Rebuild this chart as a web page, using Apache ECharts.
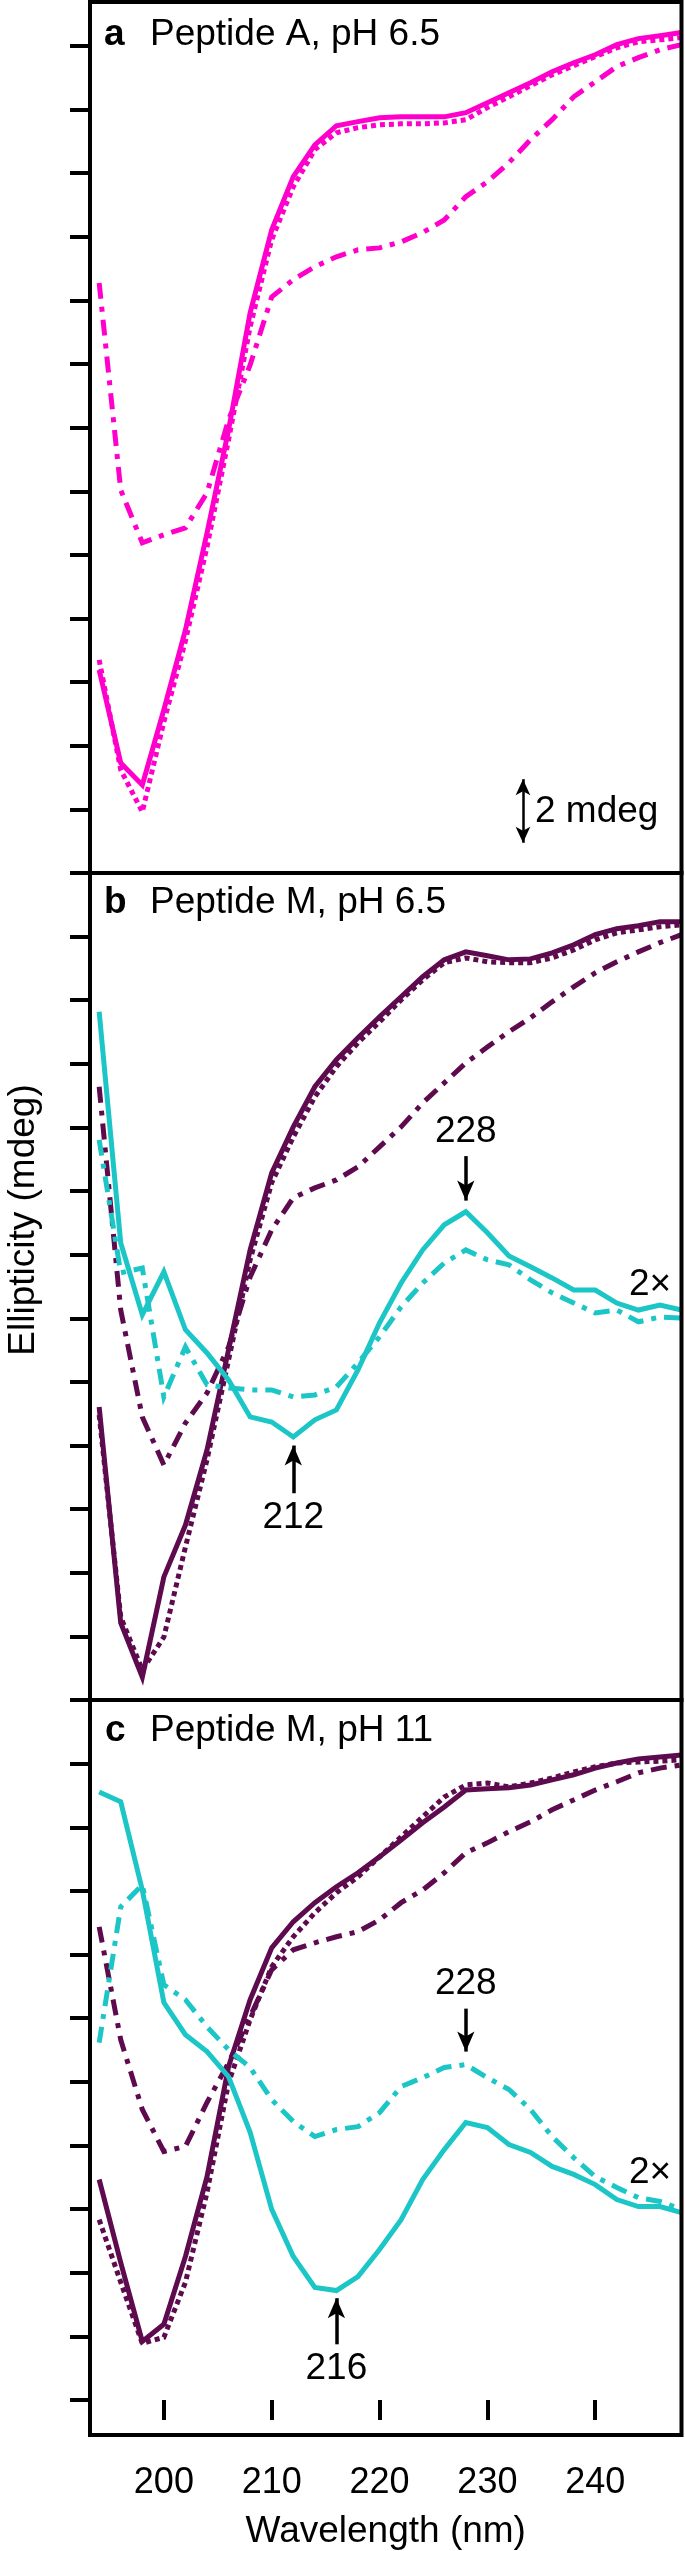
<!DOCTYPE html>
<html>
<head>
<meta charset="utf-8">
<script src="https://cdn.jsdelivr.net/npm/echarts@6/dist/echarts.min.js"></script>
<style>
  html, body { margin: 0; padding: 0; background: #fff; }
  #chart { width: 685px; height: 2551px; }
</style>
</head>
<body>
<div id="chart"></div>
<script>
// wavelength (nm), sampled every 2 nm
const wavelength = [194, 196, 198, 200, 202, 204, 206, 208, 210, 212, 214, 216, 218, 220,
  222, 224, 226, 228, 230, 232, 234, 236, 238, 240, 242, 244, 246, 248];
const xTicks = [200, 210, 220, 230, 240];
const yTicksA = [0, 2, 4, 6, 8, 10, 12, 14, 16, 18, 20, 22, 24, 26];
const yTicksB = [0, 2, 4, 6, 8, 10, 12, 14, 16, 18, 20, 22, 24, 26];
const yTicksC = [0, 2, 4, 6, 8, 10, 12, 14, 16, 18, 20, 22];

// panel a: peptide A, pH 6.5 (mdeg, arbitrary offset)
const aSolid = [6.38, 3.46, 2.77, 5.13, 7.64, 10.69, 13.93, 17.61, 20.22, 21.89, 22.89, 23.49, 23.62, 23.74,
  23.77, 23.77, 23.77, 23.9, 24.21, 24.53, 24.84, 25.19, 25.47, 25.72, 26.04, 26.23, 26.32, 26.42];
const aDotted = [6.7, 3.24, 1.92, 4.75, 7.3, 10.25, 13.62, 17.17, 19.91, 21.57, 22.74, 23.27, 23.43, 23.52,
  23.55, 23.55, 23.58, 23.68, 24.06, 24.4, 24.75, 25.09, 25.38, 25.66, 25.94, 26.13, 26.19, 26.26];
const aDashDot = [18.55, 12.04, 10.38, 10.63, 10.85, 11.95, 14.25, 15.97, 18.11, 18.65, 19.06, 19.37, 19.59, 19.65,
  19.84, 20.13, 20.53, 21.26, 21.73, 22.33, 23.05, 23.68, 24.4, 24.87, 25.35, 25.63, 25.88, 26.04];

// panel b: peptide M, pH 6.5
const bSolid = [9.21, 2.42, 0.72, 3.87, 5.5, 7.86, 11.01, 14.15, 16.57, 18.02, 19.28, 20.13, 20.82, 21.48,
  22.11, 22.74, 23.27, 23.52, 23.4, 23.27, 23.3, 23.49, 23.74, 24.06, 24.25, 24.34, 24.47, 24.47];
const bDotted = [8.96, 2.61, 0.94, 1.98, 4.81, 7.55, 10.69, 13.84, 16.26, 17.7, 18.96, 19.91, 20.66, 21.32,
  22.01, 22.64, 23.18, 23.33, 23.21, 23.18, 23.18, 23.33, 23.58, 23.9, 24.12, 24.21, 24.31, 24.37];
const bDashDot = [19.28, 12.26, 8.9, 7.39, 8.71, 9.65, 11.1, 13.3, 14.78, 15.79, 16.1, 16.35, 16.76, 17.39,
  18.02, 18.77, 19.4, 20.03, 20.53, 21.01, 21.45, 21.95, 22.42, 22.86, 23.21, 23.52, 23.81, 24.06];
const bCyanSolid = [21.64, 14.37, 12.11, 13.46, 11.64, 10.91, 10.06, 8.9, 8.74, 8.27, 8.81, 9.12, 10.38, 11.86,
  13.11, 14.15, 14.94, 15.35, 14.69, 13.96, 13.62, 13.27, 12.89, 12.89, 12.48, 12.26, 12.42, 12.26];
const bCyanDashDot = [17.61, 13.43, 13.58, 9.53, 11.1, 9.91, 9.81, 9.75, 9.75, 9.53, 9.59, 9.84, 10.6, 11.42,
  12.36, 13.11, 13.74, 14.15, 13.84, 13.68, 13.21, 12.8, 12.48, 12.17, 12.26, 11.89, 12.04, 12.01];

// panel c: peptide M, pH 11
const cSolid = [6.93, 4.32, 1.84, 2.38, 4.51, 7.02, 10.48, 12.58, 14.21, 15.03, 15.63, 16.13, 16.57, 17.07,
  17.6, 18.14, 18.64, 19.17, 19.21, 19.24, 19.33, 19.49, 19.65, 19.86, 20.02, 20.15, 20.21, 20.27];
const cDotted = [5.67, 3.7, 1.78, 1.97, 3.7, 6.52, 9.97, 11.95, 13.62, 14.56, 15.31, 15.94, 16.44, 17.07,
  17.7, 18.33, 18.95, 19.33, 19.39, 19.27, 19.39, 19.55, 19.74, 19.9, 20.02, 20.05, 20.08, 20.12];
const cDashDot = [14.87, 11.32, 9.13, 7.81, 7.97, 9.35, 10.6, 12.05, 13.52, 14.15, 14.37, 14.56, 14.72, 15.09,
  15.63, 16.03, 16.57, 17.2, 17.51, 17.86, 18.17, 18.55, 18.86, 19.17, 19.43, 19.71, 19.86, 19.96];
const cCyanSolid = [19.11, 18.8, 16.03, 12.49, 11.48, 10.95, 10.16, 8.41, 5.99, 4.51, 3.54, 3.44, 3.88, 4.73,
  5.67, 6.93, 7.87, 8.72, 8.56, 8.03, 7.78, 7.34, 7.09, 6.77, 6.3, 6.08, 6.08, 5.89];
const cCyanDashDot = [11.23, 15.5, 16.19, 13.05, 12.58, 11.73, 11.01, 10.45, 9.44, 8.75, 8.28, 8.5, 8.59, 9.03,
  9.85, 10.13, 10.45, 10.54, 10.13, 9.76, 9.13, 8.28, 7.62, 7.02, 6.68, 6.36, 6.24, 5.99];

const MAGENTA = "#ff00cc";
const PURPLE = "#5e0a4e";
const CYAN = "#1cc6c6";
const FONT = "'Liberation Sans', Arial, Helvetica, sans-serif";

const DOT = [5, 4];
const DASHDOT = [16, 8, 5, 8];

const pairs = (arr) => wavelength.map((w, i) => [w, arr[i]]);

const line = (idx, arr, color, dash, extra) =>
  Object.assign(
    {
      type: "line",
      xAxisIndex: idx,
      yAxisIndex: idx,
      data: pairs(arr),
      showSymbol: false,
      symbol: "none",
      silent: true,
      lineStyle: { color: color, width: 5, type: dash || "solid", cap: "butt", join: "miter" },
      z: 3,
    },
    extra || {}
  );

// arrow pointing at a peak / trough, label on the tail end
const arrow = (x, y0, y1, text) => ({
  silent: true,
  symbol: ["none", "arrow"],
  symbolSize: [13, 20],
  lineStyle: { color: "#000", width: 3.5, type: "solid" },
  label: {
    show: true,
    position: "start",
    formatter: text,
    color: "#000",
    fontSize: 37,
    fontFamily: FONT,
    distance: 6,
  },
  data: [[{ coord: [x, y0] }, { coord: [x, y1] }]],
});

const grids = [
  { left: 90, right: 3.5, top: 2, height: 871 },
  { left: 90, right: 3.5, top: 873, height: 827 },
  { left: 90, right: 3.5, top: 1700, height: 736 },
].map((g) => Object.assign(g, { show: true, borderColor: "#000", borderWidth: 4, z: 5 }));

const xAxes = [0, 1, 2].map((i) => ({
  type: "value",
  gridIndex: i,
  min: 193.15,
  max: 248,
  show: i === 2,
  axisLine: { show: false },
  splitLine: { show: false },
  axisTick: {
    show: true,
    customValues: xTicks,
    length: 20,
    lineStyle: { color: "#000", width: 4 },
  },
  axisLabel: {
    show: true,
    customValues: xTicks,
    color: "#000",
    fontSize: 36,
    fontFamily: FONT,
    margin: 30,
  },
  name: i === 2 ? "Wavelength (nm)" : "",
  nameLocation: "middle",
  nameGap: 78,
  nameTextStyle: { color: "#000", fontSize: 37, fontFamily: FONT },
}));

const yRanges = [
  [0, 27.38, yTicksA],
  [0, 26, yTicksB],
  [-1.1, 22, yTicksC],
];
const yAxes = yRanges.map((r, i) => ({
  type: "value",
  gridIndex: i,
  min: r[0],
  max: r[1],
  axisLine: { show: false },
  splitLine: { show: false },
  axisLabel: { show: false, customValues: r[2] },
  axisTick: {
    show: true,
    customValues: r[2],
    length: 20,
    lineStyle: { color: "#000", width: 4 },
  },
}));

const textStyle = (extra) =>
  Object.assign({ fill: "#000", fontSize: 37, fontFamily: FONT }, extra);

const chart = echarts.init(document.getElementById("chart"), null, { renderer: "canvas" });
chart.setOption({
  animation: false,
  backgroundColor: "#fff",
  grid: grids,
  xAxis: xAxes,
  yAxis: yAxes,
  series: [
    line(0, aDashDot, MAGENTA, DASHDOT),
    line(0, aDotted, MAGENTA, DOT),
    line(0, aSolid, MAGENTA, "solid", {
      markLine: {
        silent: true,
        symbol: ["arrow", "arrow"],
        symbolSize: [11, 16],
        lineStyle: { color: "#000", width: 2.5, type: "solid" },
        label: { show: false },
        data: [[{ coord: [233.3, 0.95] }, { coord: [233.3, 2.95] }]],
      },
    }),

    line(1, bDashDot, PURPLE, DASHDOT),
    line(1, bDotted, PURPLE, DOT),
    line(1, bSolid, PURPLE),
    line(1, bCyanDashDot, CYAN, DASHDOT),
    line(1, bCyanSolid, CYAN),
    { type: "line", xAxisIndex: 1, yAxisIndex: 1, data: [], markLine: arrow(228, 17.1, 15.7, "228") },
    { type: "line", xAxisIndex: 1, yAxisIndex: 1, data: [], markLine: arrow(212, 6.5, 8.0, "212") },

    line(2, cDashDot, PURPLE, DASHDOT),
    line(2, cDotted, PURPLE, DOT),
    line(2, cSolid, PURPLE),
    line(2, cCyanDashDot, CYAN, DASHDOT),
    line(2, cCyanSolid, CYAN),
    { type: "line", xAxisIndex: 2, yAxisIndex: 2, data: [], markLine: arrow(228, 12.3, 10.95, "228") },
    { type: "line", xAxisIndex: 2, yAxisIndex: 2, data: [], markLine: arrow(216, 1.75, 3.2, "216") },
  ],
  graphic: [
    { type: "text", x: 104, y: 35, style: textStyle({ text: "a", fontWeight: "bold", verticalAlign: "middle" }) },
    { type: "text", x: 150, y: 35, style: textStyle({ text: "Peptide A, pH 6.5", verticalAlign: "middle" }) },
    { type: "text", x: 104, y: 903, style: textStyle({ text: "b", fontWeight: "bold", verticalAlign: "middle" }) },
    { type: "text", x: 150, y: 903, style: textStyle({ text: "Peptide M, pH 6.5", verticalAlign: "middle" }) },
    { type: "text", x: 105, y: 1731, style: textStyle({ text: "c", fontWeight: "bold", verticalAlign: "middle" }) },
    { type: "text", x: 150, y: 1731, style: textStyle({ text: "Peptide M, pH 11", verticalAlign: "middle" }) },
    { type: "text", x: 535, y: 812, style: textStyle({ text: "2 mdeg", verticalAlign: "middle" }) },
    { type: "text", x: 650, y: 1285, style: textStyle({ text: "2×", align: "center", verticalAlign: "middle" }) },
    { type: "text", x: 650, y: 2173, style: textStyle({ text: "2×", align: "center", verticalAlign: "middle" }) },
    {
      type: "text",
      x: 24,
      y: 1220,
      rotation: Math.PI / 2,
      style: textStyle({ text: "Ellipticity (mdeg)", align: "center", verticalAlign: "middle" }),
    },
  ],
});
</script>
</body>
</html>
